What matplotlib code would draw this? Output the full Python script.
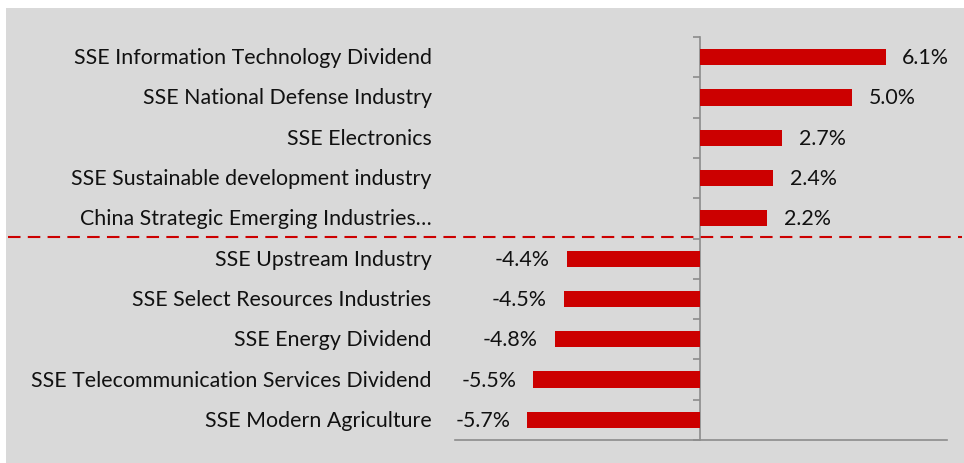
import numpy as np
import matplotlib.pyplot as plt
from matplotlib.patches import Rectangle
from matplotlib.lines import Line2D

# data
categories = [
    "SSE Information Technology Dividend",
    "SSE National Defense Industry",
    "SSE Electronics",
    "SSE Sustainable development industry",
    "China Strategic Emerging Industries\u2026",
    "SSE Upstream Industry",
    "SSE Select Resources Industries",
    "SSE Energy Dividend",
    "SSE Telecommunication Services Dividend",
    "SSE Modern Agriculture",
]
returns = [6.1, 5.0, 2.7, 2.4, 2.2, -4.4, -4.5, -4.8, -5.5, -5.7]

plt.rcParams["font.family"] = ["Lato", "DejaVu Sans"]
FS = 15.4

W, H = 964, 464
fig = plt.figure(figsize=(W / 100, H / 100), dpi=100, facecolor="white")
fig.add_artist(Rectangle((6 / W, 0), 1 - 6 / W, 1 - 9 / H, transform=fig.transFigure,
                         facecolor="#D9D9D9", edgecolor="none", zorder=0))

ax = fig.add_axes([455 / W, 23 / H, (947 - 455) / W, (441 - 38) / H])
ax.set_facecolor("none")

y = np.arange(len(categories))
ax.barh(y, returns, height=0.4, color="#CC0000", zorder=3)
ax.set_xlim(-8.08, 8.12)
ax.set_ylim(len(categories) - 0.5, -0.5)

for yi, v in zip(y, returns):
    if v >= 0:
        ax.text(v + 0.55, yi, f"{v:.1f}%", ha="left", va="center", fontsize=FS, color="#111111")
    else:
        ax.text(v - 0.55, yi, f"{v:.1f}%", ha="right", va="center", fontsize=FS, color="#111111")

# category labels at fixed spot left of the plot
for yi, c in zip(y, categories):
    ax.text(-8.85, yi, c, ha="right", va="center", fontsize=FS, color="#111111")

for s in ["top", "right"]:
    ax.spines[s].set_visible(False)
ax.spines["left"].set_position(("data", 0))
ax.spines["left"].set_color("#8C8C8C")
ax.spines["bottom"].set_color("#8C8C8C")
ax.spines["left"].set_linewidth(1.2)
ax.spines["bottom"].set_linewidth(1.2)
ax.set_xticks([])
ax.set_yticks(np.arange(-0.5, len(categories), 1.0))
ax.set_yticklabels([])
ax.tick_params(axis="y", direction="out", length=5, color="#8C8C8C", width=1.2)

# dashed divider between gainers and losers
ydiv = 1 - 238 / H
fig.add_artist(Line2D([8 / W, 962 / W], [ydiv, ydiv], transform=fig.transFigure,
                      color="#CC0000", linewidth=1.5, linestyle=(0, (6, 3.5)), zorder=5))

fig.savefig("out.png", dpi=100, facecolor="white")
